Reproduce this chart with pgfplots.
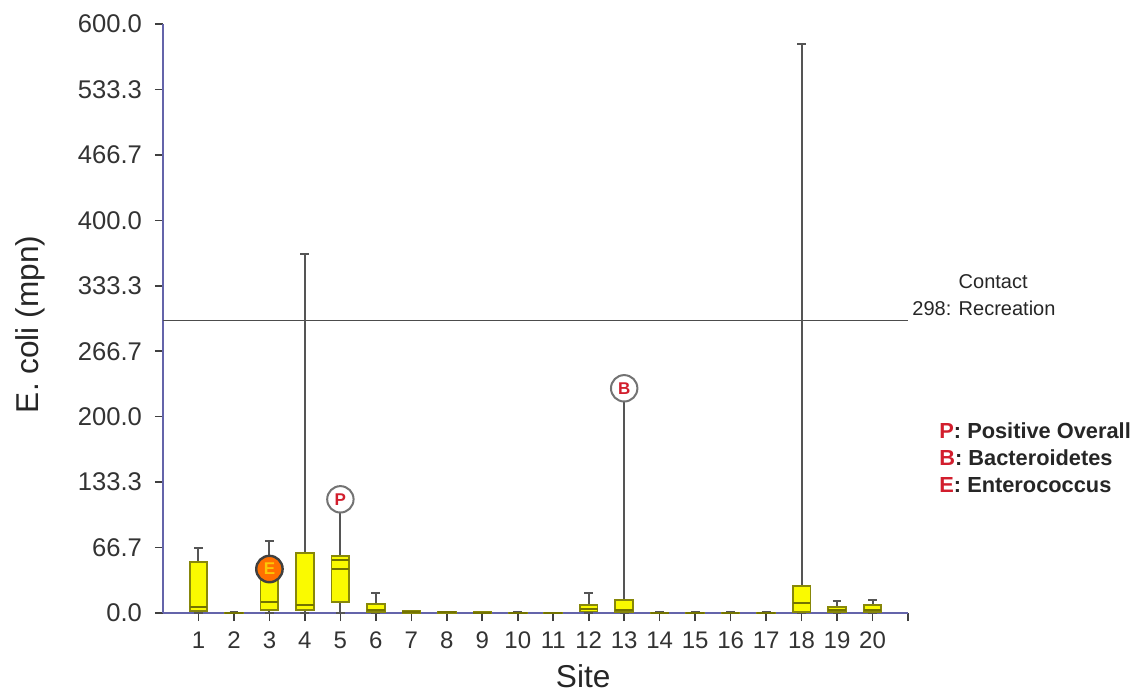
\documentclass[border=0pt]{standalone}
\usepackage{fontspec}
\setmainfont{Liberation Sans}
\usepackage{pgfplots}
\pgfplotsset{compat=1.18}
\usepgfplotslibrary{statistics}

\definecolor{boxfill}{RGB}{250,250,0}
\definecolor{boxedge}{RGB}{135,135,10}
\definecolor{medline}{RGB}{115,115,0}
\definecolor{whisk}{RGB}{85,85,85}
\definecolor{axisblue}{RGB}{100,100,170}
\definecolor{tagred}{RGB}{210,30,45}

\pgfplotsset{
  site box/.style={
    solid, mark=none, forget plot,
    boxplot/draw direction=y,
    boxplot/box extend=0.5,
    boxplot/whisker extend=0.25,
    boxplot/every box/.style={draw=boxedge, fill=boxfill, line width=0.9pt},
    boxplot/every whisker/.style={draw=whisk, line width=1pt},
    boxplot/every median/.style={draw=medline, line width=1pt},
  },
  mean line/.style={draw=medline, line width=1pt, forget plot, mark=none},
}

\begin{document}
\begin{tikzpicture}
\path[use as bounding box] (-81.5pt,-39.5pt) rectangle (488.5pt,306.5pt);
\begin{axis}[
  scale only axis,
  width=372.5pt, height=294.5pt,
  xmin=0, xmax=21, ymin=0, ymax=600,
  clip=false,
  axis lines=left,
  axis line style={-, draw=axisblue, line width=1pt},
  tick align=outside,
  major tick length=4pt,
  tick style={draw=black!75, line width=0.8pt},
  xtick={1,2,3,4,5,6,7,8,9,10,11,12,13,14,15,16,17,18,19,20,21},
  xticklabels={1,2,3,4,5,6,7,8,9,10,11,12,13,14,15,16,17,18,19,20,{}},
  ytick={0,66.6667,133.3333,200,266.6667,333.3333,400,466.6667,533.3333,600},
  yticklabels={0.0,66.7,133.3,200.0,266.7,333.3,400.0,466.7,533.3,600.0},
  x tick label style={font=\fontsize{12}{14}\selectfont, text=black!80, yshift=-2pt},
  y tick label style={font=\fontsize{12.8}{15}\selectfont, text=black!80, xshift=-3pt},
  xlabel={Site},
  xlabel style={at={(axis description cs:0.564,-0.1066)}, anchor=center,
    font=\fontsize{15.8}{18}\selectfont, text=black!85},
  ylabel={E. coli (mpn)},
  ylabel style={at={(axis description cs:-0.1785,0.49)}, anchor=center,
    font=\fontsize{15.8}{18}\selectfont, text=black!85},
]

% contact recreation limit
\addplot[black!70, line width=0.8pt, forget plot] coordinates {(0,298) (21,298)};

% box plots per site
\addplot[site box, boxplot prepared={draw position=1, lower whisker=0, lower quartile=2.3, median=5.8, upper quartile=51.6, upper whisker=65.9}] coordinates {};
\addplot[site box, boxplot prepared={draw position=2, lower whisker=0, lower quartile=0, median=0.3, upper quartile=0.6, upper whisker=0.8}] coordinates {};
\addplot[site box, boxplot prepared={draw position=3, lower whisker=0, lower quartile=3, median=11.5, upper quartile=54, upper whisker=73.6}] coordinates {};
\addplot[site box, boxplot prepared={draw position=4, lower whisker=0, lower quartile=3, median=8.1, upper quartile=60.8, upper whisker=365.7}] coordinates {};
\addplot[site box, boxplot prepared={draw position=5, lower whisker=0, lower quartile=10.9, median=44.5, upper quartile=58, upper whisker=104}] coordinates {};
\addplot[site box, boxplot prepared={draw position=6, lower whisker=0, lower quartile=1, median=3, upper quartile=9.2, upper whisker=20.7}] coordinates {};
\addplot[site box, boxplot prepared={draw position=7, lower whisker=0, lower quartile=0.3, median=1, upper quartile=2, upper whisker=2.5}] coordinates {};
\addplot[site box, boxplot prepared={draw position=8, lower whisker=0, lower quartile=0.2, median=0.6, upper quartile=1.2, upper whisker=1.5}] coordinates {};
\addplot[site box, boxplot prepared={draw position=9, lower whisker=0, lower quartile=0.1, median=0.4, upper quartile=0.8, upper whisker=1}] coordinates {};
\addplot[site box, boxplot prepared={draw position=10, lower whisker=0, lower quartile=0, median=0.2, upper quartile=0.5, upper whisker=0.6}] coordinates {};
\addplot[site box, boxplot prepared={draw position=11, lower whisker=0, lower quartile=0, median=0.2, upper quartile=0.4, upper whisker=0.5}] coordinates {};
\addplot[site box, boxplot prepared={draw position=12, lower whisker=0, lower quartile=1.5, median=4, upper quartile=8.1, upper whisker=20}] coordinates {};
\addplot[site box, boxplot prepared={draw position=13, lower whisker=0, lower quartile=1, median=3, upper quartile=13.2, upper whisker=218}] coordinates {};
\addplot[site box, boxplot prepared={draw position=14, lower whisker=0, lower quartile=0, median=0.2, upper quartile=0.5, upper whisker=0.6}] coordinates {};
\addplot[site box, boxplot prepared={draw position=15, lower whisker=0, lower quartile=0, median=0.2, upper quartile=0.5, upper whisker=0.6}] coordinates {};
\addplot[site box, boxplot prepared={draw position=16, lower whisker=0, lower quartile=0, median=0.2, upper quartile=0.5, upper whisker=0.6}] coordinates {};
\addplot[site box, boxplot prepared={draw position=17, lower whisker=0, lower quartile=0, median=0.2, upper quartile=0.5, upper whisker=0.6}] coordinates {};
\addplot[site box, boxplot prepared={draw position=18, lower whisker=0, lower quartile=1.3, median=10.5, upper quartile=27.5, upper whisker=579.6}] coordinates {};
\addplot[site box, boxplot prepared={draw position=19, lower whisker=0, lower quartile=1, median=3, upper quartile=5.8, upper whisker=12.2}] coordinates {};
\addplot[site box, boxplot prepared={draw position=20, lower whisker=0, lower quartile=1, median=3.5, upper quartile=8.1, upper whisker=13.2}] coordinates {};

% mean lines
\addplot[mean line] coordinates {(2.75,33.6) (3.25,33.6)};
\addplot[mean line] coordinates {(4.75,54) (5.25,54)};

% source-tracking tags
\addplot[only marks, mark=*, mark size=6.6pt,
  mark options={draw=black!55, fill=white, line width=1pt},
  point meta=explicit symbolic, nodes near coords,
  every node near coord/.append style={anchor=center, text=tagred,
    font=\bfseries\fontsize{8.5}{9}\selectfont}]
  coordinates {(5,115.8) [P] (13,228.9) [B]};
\addplot[only marks, mark=*, mark size=6.6pt,
  mark options={draw=black!75, fill=orange!60!red!80!yellow, line width=1.2pt},
  point meta=explicit symbolic, nodes near coords,
  every node near coord/.append style={anchor=center, text=yellow!60!orange,
    font=\bfseries\fontsize{8.5}{9}\selectfont}]
  coordinates {(3,44.8) [E]};
\end{axis}

% limit annotation
\node[anchor=base west, inner sep=0pt, font=\fontsize{10}{13.5}\selectfont, text=black!85]
  at (374.5pt,149pt) {298: \begin{tabular}[b]{@{}l@{}}Contact\\Recreation\end{tabular}};

% tag key
\node[anchor=base west, inner sep=0pt, font=\bfseries\fontsize{10.9}{13.5}\selectfont, text=black!85]
  at (388pt,60.5pt) {\begin{tabular}[b]{@{}l@{}}
    \textcolor{tagred}{P}: Positive Overall\\
    \textcolor{tagred}{B}: Bacteroidetes\\
    \textcolor{tagred}{E}: Enterococcus\end{tabular}};
\end{tikzpicture}
\end{document}
